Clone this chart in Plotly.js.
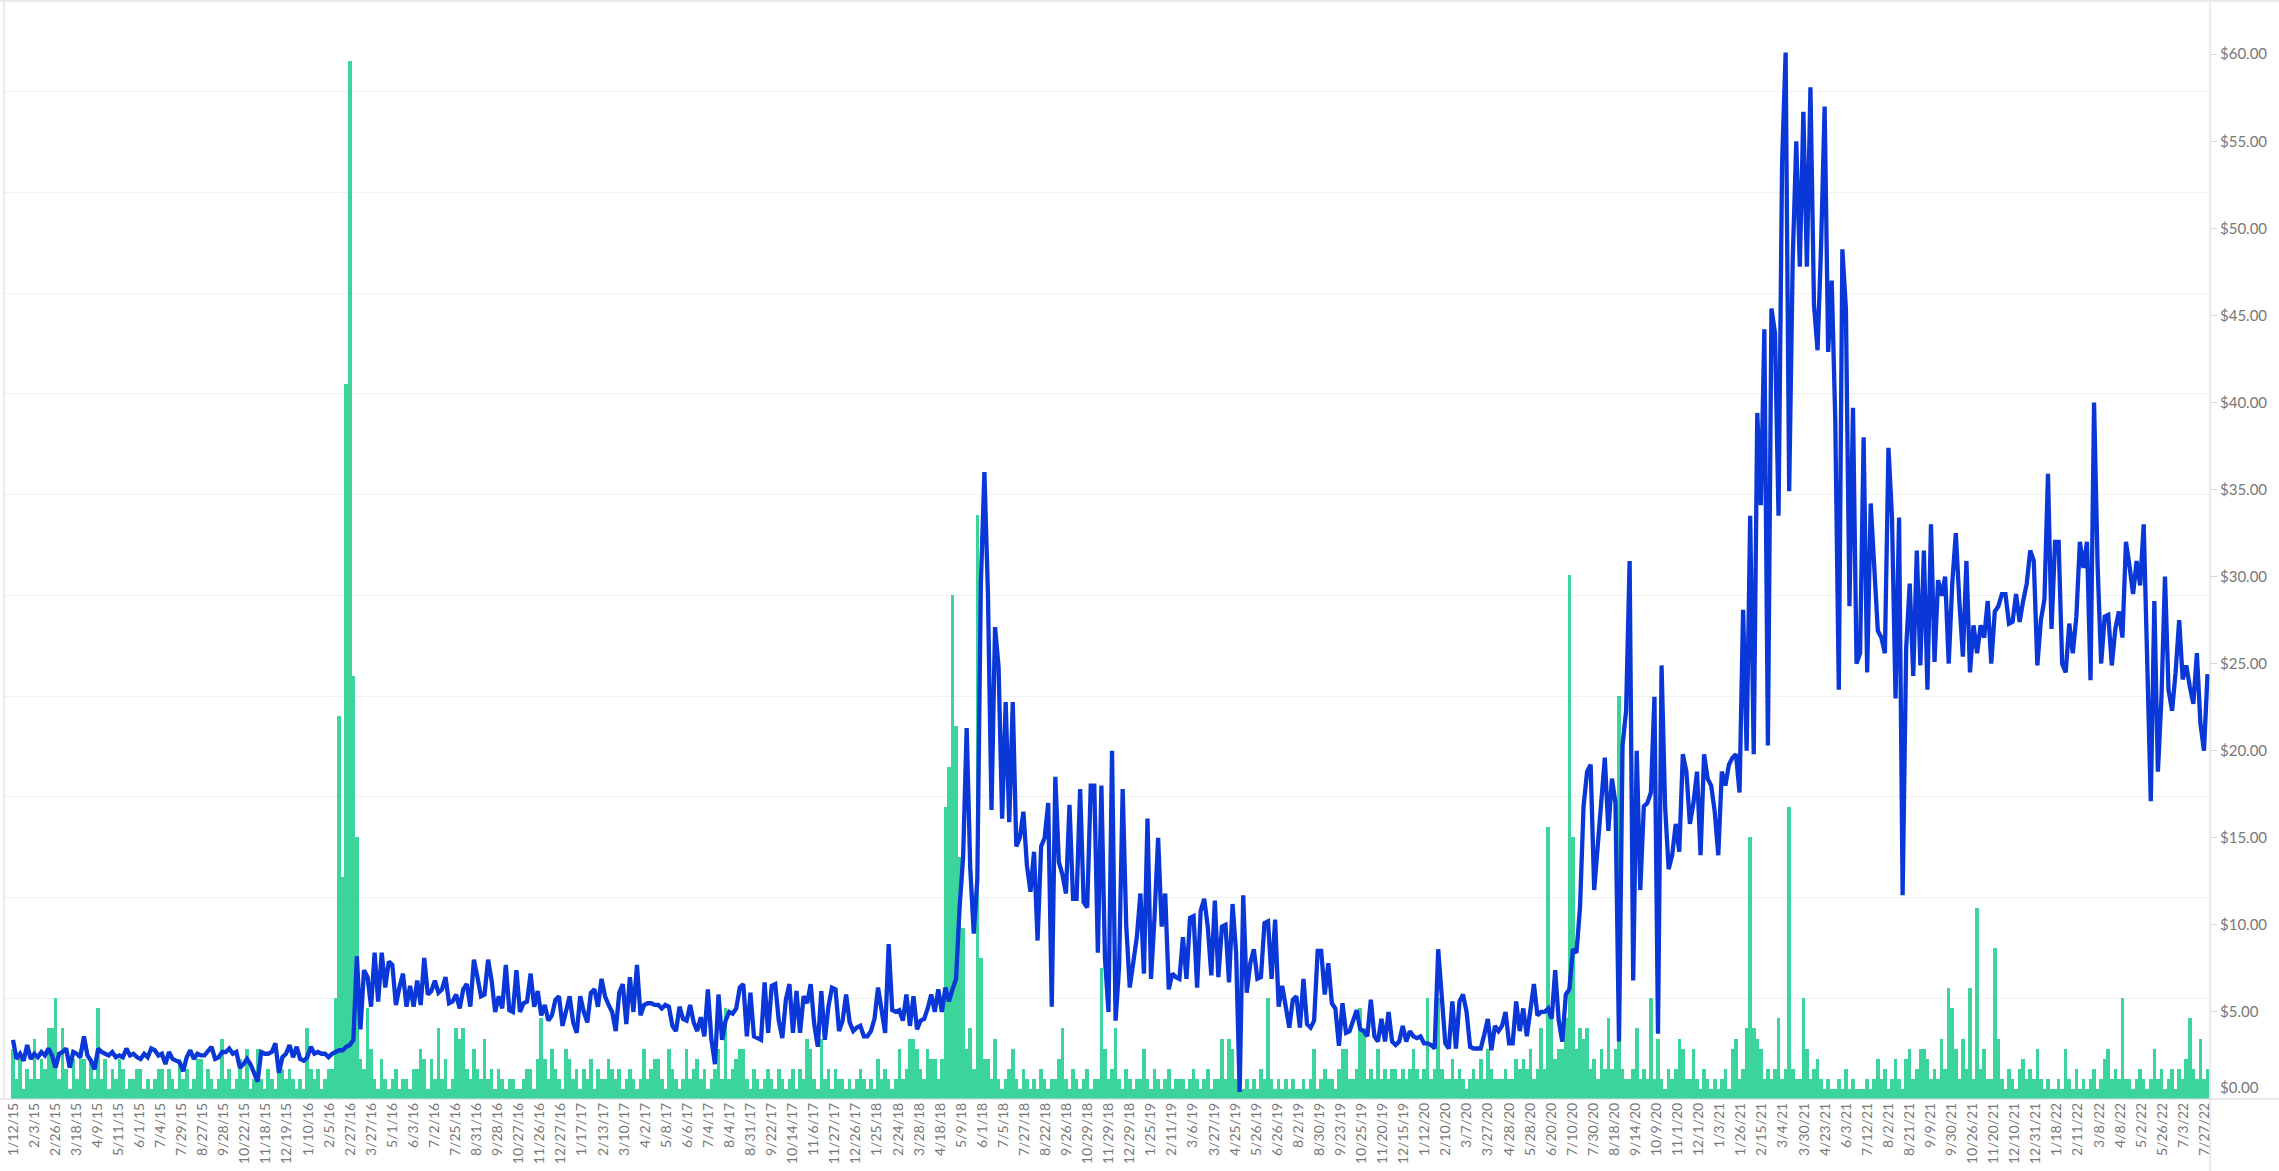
<!DOCTYPE html>
<html>
<head>
<meta charset="utf-8">
<script src="https://cdn.plot.ly/plotly-3.0.1.min.js"></script>
<style>
  html, body { margin: 0; padding: 0; background: #ffffff; }
  #chart { width: 2279px; height: 1171px; }
</style>
</head>
<body>
<div id="chart"></div>
<script>
// ---- Data ----
// Tick labels along the horizontal axis (every labelled category)
const dateLabels = ['1/12/15','2/3/15','2/26/15','3/18/15','4/9/15','5/11/15','6/1/15','7/4/15','7/29/15','8/27/15','9/28/15','10/22/15','11/18/15','12/19/15',
  '1/10/16','2/5/16','2/27/16','3/27/16','5/1/16','6/3/16','7/2/16','7/25/16','8/31/16','9/28/16','10/27/16','11/26/16','12/27/16',
  '1/17/17','2/13/17','3/10/17','4/2/17','5/8/17','6/6/17','7/4/17','8/4/17','8/31/17','9/22/17','10/14/17','11/6/17','11/27/17','12/26/17',
  '1/25/18','2/24/18','3/28/18','4/18/18','5/9/18','6/1/18','7/5/18','7/27/18','8/22/18','9/26/18','10/29/18','11/29/18','12/29/18',
  '1/25/19','2/11/19','3/6/19','3/27/19','4/25/19','5/26/19','6/26/19','8/2/19','8/30/19','9/23/19','10/25/19','11/20/19','12/15/19',
  '1/12/20','2/10/20','3/7/20','3/27/20','4/28/20','5/28/20','6/20/20','7/10/20','7/30/20','8/18/20','9/14/20','10/9/20','11/1/20','12/1/20',
  '1/3/21','1/26/21','2/15/21','3/4/21','3/30/21','4/23/21','6/3/21','7/12/21','8/2/21','8/21/21','9/9/21','9/30/21','10/26/21','11/20/21','12/10/21','12/31/21',
  '1/18/22','2/11/22','3/8/22','4/8/22','5/2/22','5/26/22','7/3/22','7/27/22'];

// Price (blue line, right axis, dollars)
const priceValues = [
  3.4,2.3,2.6,2.2,3.1,2.3, 2.6,2.4,2.7,2.5,2.9,2.5, 1.8,2.6,2.7,2.9,1.8,2.7, 2.6,2.4,3.6,2.5,2.2,1.7,
  2.9,2.7,2.6,2.5,2.7,2.4, 2.5,2.4,2.9,2.5,2.6,2.4, 2.3,2.6,2.4,2.9,2.8,2.5, 2.6,2.0,2.7,2.3,2.2,2.1,
  1.6,2.4,2.8,2.3,2.6,2.5, 2.5,2.8,3.0,2.3,2.4,2.7, 2.7,2.9,2.6,2.7,1.8,2.0, 2.3,2.0,1.5,1.0,2.7,2.6,
  2.6,2.7,3.2,1.5,2.4,2.6, 3.1,2.4,3.0,2.3,2.2,2.4, 3.0,2.6,2.7,2.6,2.6,2.4, 2.6,2.7,2.8,2.8,3.0,3.1,
  3.4,8.2,4.0,7.4,7.0,5.3, 8.4,5.6,8.4,6.4,7.9,7.7, 5.4,6.4,7.2,5.3,6.5,5.3, 6.8,5.4,8.1,6.0,6.2,6.8,
  6.1,6.3,7.0,5.5,5.6,6.0, 5.2,6.3,6.6,5.3,8.0,7.0, 5.9,6.0,8.0,6.8,5.0,5.9, 5.2,7.7,5.1,5.0,7.4,5.0,
  5.5,5.6,7.2,5.3,6.2,4.8, 5.4,4.5,4.8,5.7,5.9,4.2, 5.0,5.9,4.4,3.8,5.9,5.0, 4.4,6.1,6.3,5.3,6.9,5.9,
  5.4,5.0,3.9,6.1,6.6,4.3, 7.0,5.0,7.7,4.8,5.4,5.5, 5.5,5.4,5.4,5.2,5.4,5.3, 4.2,3.9,5.3,4.6,4.5,5.4,
  4.4,3.9,4.7,3.6,6.3,3.4, 2.0,6.0,3.4,4.5,5.0,4.9, 5.2,6.4,6.6,3.6,6.1,3.6, 3.5,3.4,6.7,3.8,6.5,6.6,
  4.5,3.5,5.7,6.6,3.8,6.2, 3.8,5.9,5.5,6.6,4.3,3.0, 6.2,3.4,5.3,6.4,6.3,3.9, 4.5,6.0,4.4,3.9,4.1,4.2,
  3.6,3.6,3.9,4.6,6.4,5.0, 3.8,8.9,5.1,5.0,5.1,4.5, 6.0,4.2,5.9,4.0,4.5,4.6, 5.2,6.0,5.0,6.3,5.0,6.4,
  5.6,6.3,6.9,11.0,13.9,21.3, 13.3,9.5,12.6,29.6,36.0,29.0, 16.6,27.1,24.8,16.1,22.8,15.9, 22.8,14.5,15.0,16.5,13.4,11.9,
  14.2,9.1,14.5,15.0,17.0,5.3, 18.5,13.6,12.9,11.8,16.9,11.5, 11.5,17.8,11.3,11.0,18.0,18.0, 8.4,18.0,8.1,5.0,20.0,4.5,
  7.6,17.8,10.0,6.4,8.1,9.3, 11.8,7.2,16.1,6.9,10.5,15.0, 9.9,11.8,6.3,7.2,7.0,6.9, 9.3,6.9,10.4,10.5,6.4,10.8,
  11.5,9.9,7.1,11.4,7.0,9.9, 10.0,6.7,11.2,8.4,0.4,11.7, 6.1,7.8,8.6,6.9,7.0,10.1, 10.2,6.9,10.3,5.3,6.5,5.4,
  4.1,5.7,5.9,4.1,6.9,4.3, 4.1,4.5,8.5,8.5,6.0,7.8, 5.5,5.2,3.05,5.5,3.8,3.9, 4.6,5.1,4.0,3.9,3.6,5.7,
  3.6,3.3,4.6,3.3,5.0,3.3, 3.1,3.3,4.2,3.3,3.9,3.6, 3.5,3.6,3.2,3.2,3.1,2.9, 8.6,6.0,3.2,2.9,5.6,2.9,
  5.6,6.0,5.0,3.0,2.9,2.9, 2.9,3.7,4.6,2.8,4.2,3.9, 4.2,5.0,3.2,3.2,5.6,3.9, 5.2,3.6,5.2,6.6,4.8,5.0,
  5.0,5.2,4.6,7.4,4.5,3.3, 6.0,6.3,8.6,8.4,11.0,16.8, 18.8,19.2,12.0,14.8,16.8,19.6, 15.4,18.4,17.0,3.3,20.3,22.3,
  30.9,6.8,20.0,12.0,16.8,17.0, 17.6,23.1,3.75,24.9,16.8,13.2, 14.0,15.8,14.2,19.8,18.8,15.8, 17.0,18.8,14.0,19.8,18.4,18.0,
  16.5,14.0,18.8,18.0,19.2,19.6, 19.8,17.6,28.1,20.0,33.5,19.8, 39.4,34.1,44.2,20.3,45.4,44.0, 33.5,53.8,60.1,34.9,48.2,55.0,
  47.8,56.7,47.8,58.1,45.6,43.0, 49.0,57.0,42.9,47.0,39.0,23.5, 48.8,45.4,28.3,39.7,25.0,25.6, 38.0,24.5,34.2,31.0,26.9,26.5,
  25.6,37.4,33.4,23.0,33.4,11.7, 25.9,29.6,24.3,31.5,24.9,31.5, 23.5,33.0,25.1,29.8,28.9,30.0, 25.0,29.6,32.5,28.6,25.4,30.9,
  24.5,27.2,25.6,27.2,26.5,28.6, 25.0,28.0,28.3,29.0,29.0,27.3, 27.4,29.0,27.4,28.6,29.6,31.5, 30.9,24.9,27.5,28.7,35.9,27.0,
  32.0,32.0,25.0,24.5,27.3,25.6, 27.7,32.0,30.5,32.0,24.05,40.0, 30.6,25.0,27.7,27.8,24.9,27.0, 28.0,26.5,32.0,30.6,29.0,30.9,
  29.5,33.0,25.0,17.1,28.6,18.8, 23.0,30.0,23.5,22.3,24.5,27.5, 24.1,24.9,23.7,22.7,25.6,21.56, 20.0,24.4
];

// Volume (green bars, hidden left axis)
const volumeValues = [
  5,2,4,1,3,2, 6,2,4,3,7,7, 10,2,7,3,1,4, 2,5,4,1,4,2, 9,2,4,1,3,2, 4,3,1,2,2,3, 3,1,2,1,2,3, 3,1,3,2,1,4,
  2,3,1,2,4,4, 1,3,2,1,2,6, 2,3,1,2,4,2, 5,1,2,5,2,1, 3,2,1,3,3,2, 3,2,1,2,1,7, 3,2,3,1,2,3, 3,10,38,22,71,103,
  42,26,4,3,9,5, 2,1,4,2,1,2, 3,1,2,2,1,3, 3,5,4,1,4,2, 7,2,4,1,2,7, 6,7,3,2,5,3, 2,6,2,3,1,3, 2,1,2,2,1,1,
  2,3,3,1,4,8, 4,2,5,3,2,1, 5,4,2,3,1,3, 2,4,1,3,2,2, 4,3,2,3,1,2, 3,2,1,2,5,2, 3,4,4,2,1,5, 3,2,1,2,5,2,
  3,4,2,3,1,2, 3,5,2,9,2,3, 4,5,5,2,1,3, 2,1,2,3,2,1, 3,2,1,2,3,1, 3,2,6,5,2,1, 6,2,3,1,3,2, 2,1,2,1,2,3,
  2,1,2,1,4,2, 3,2,1,2,5,2, 3,6,6,5,3,2, 5,4,4,2,4,29, 33,50,37,24,17,5, 7,3,58,14,4,4, 2,6,2,1,2,3, 5,2,1,3,2,1,
  2,1,3,2,1,2, 2,4,7,2,1,3, 2,1,2,3,1,2, 2,13,5,2,3,7, 2,1,3,2,1,2, 2,5,2,1,3,2, 1,2,3,1,2,2, 2,1,2,3,2,1,
  2,3,1,2,2,6, 2,6,5,2,3,1, 2,1,2,1,3,2, 10,2,1,2,1,2, 1,2,1,1,2,1, 2,5,1,2,3,2, 2,1,3,5,5,2, 2,3,9,7,2,3,
  2,5,2,3,2,3, 3,2,3,2,3,5, 3,2,3,10,2,3, 10,3,2,2,4,2, 3,2,1,2,3,2, 4,2,5,3,2,2, 2,3,2,2,4,3, 4,3,5,2,3,7,
  3,27,8,4,5,5, 8,52,26,5,7,6, 7,3,4,2,5,3, 8,3,5,40,3,2, 2,3,7,2,3,2, 10,2,6,2,1,3, 2,3,6,5,2,2, 5,2,1,3,2,1,
  2,1,2,3,1,5, 6,2,3,7,26,7, 6,5,2,3,2,3, 8,2,3,29,3,2, 2,10,5,2,3,4, 2,1,2,1,1,2, 1,3,1,2,1,1, 1,2,1,2,4,2,
  3,1,2,4,2,1, 4,5,2,3,5,5, 4,2,3,2,6,3, 11,9,5,2,6,3, 11,2,19,3,5,2, 2,15,6,2,1,3, 2,1,3,4,2,3, 2,5,2,1,2,1,
  1,2,1,5,2,1, 3,1,2,1,2,3, 1,2,4,5,2,3, 2,10,2,2,1,2, 3,2,1,2,5,2, 3,1,2,3,1,3, 2,4,8,3,2,6, 2,3
];

// Right axis tick values (dollars)
const priceTicks = [5,10,15,20,25,30,35,40,45,50,55,60];
const priceZeroTick = 0;

// ---- Build the chart ----
const idx = priceValues.map((_, i) => i);
const lastLabelPos = 618.1;                 // category position of the last labelled date
const labelStep = lastLabelPos / (dateLabels.length - 1);
const tickPositions = dateLabels.map((_, k) => k * labelStep);
const fmt = v => '$' + v.toFixed(2);

const FONT = 'Lato, "Open Sans", "DejaVu Sans", sans-serif';
const LABEL = '#777777';
const FRAME = '#d6d6d6';

const volumeTrace = {
  type: 'bar', x: idx, y: volumeValues, xaxis: 'x', yaxis: 'y',
  marker: { color: '#3bd49b', line: { width: 0 } },
  width: 1, hoverinfo: 'skip', showlegend: false
};
const priceTrace = {
  type: 'scatter', mode: 'lines', x: idx, y: priceValues, xaxis: 'x', yaxis: 'y2',
  line: { color: '#0a37d8', width: 4.3, shape: 'linear' },
  hoverinfo: 'skip', showlegend: false
};

const L = 4, R = 69, T = 2, B = 72, W = 2279, H = 1171;
const pw = W - L - R, ph = H - T - B;
const px2x = p => (p - L) / pw;
const py2y = p => (H - B - p) / ph;

const layout = {
  width: W, height: H,
  margin: { l: L, r: R, t: T, b: B, pad: 0 },
  paper_bgcolor: '#ffffff', plot_bgcolor: '#ffffff',
  bargap: 0, showlegend: false,
  font: { family: FONT, color: LABEL },
  xaxis: {
    range: [-2.54, 619.7], tickmode: 'array', tickvals: tickPositions, ticktext: dateLabels,
    tickangle: -90, tickfont: { size: 14, color: LABEL, family: FONT },
    showgrid: false, zeroline: false, showline: false, ticks: '', automargin: false, fixedrange: true
  },
  yaxis: {
    range: [0, 108.9], dtick: 10, tick0: 0, showgrid: true, gridcolor: '#f1f1f1', gridwidth: 1,
    showticklabels: false, zeroline: false, showline: false, ticks: '', fixedrange: true
  },
  yaxis2: {
    overlaying: 'y', side: 'right', range: [0, 63],
    tickmode: 'array', tickvals: priceTicks, ticktext: priceTicks.map(fmt),
    ticks: 'outside', ticklen: 6, tickwidth: 1, tickcolor: FRAME,
    tickfont: { size: 15, color: LABEL, family: FONT },
    showgrid: false, zeroline: false, showline: false, automargin: false, fixedrange: true
  },
  annotations: [{
    xref: 'paper', yref: 'y2', x: 1, y: priceZeroTick, xanchor: 'left', yanchor: 'middle',
    xshift: 8, yshift: 12, text: fmt(priceZeroTick), showarrow: false,
    font: { size: 15, color: LABEL, family: FONT }
  }],
  shapes: [
    { type: 'line', xref: 'paper', yref: 'paper', x0: px2x(0), x1: px2x(W), y0: py2y(1), y1: py2y(1), line: { color: FRAME, width: 1 } },
    { type: 'line', xref: 'paper', yref: 'paper', x0: px2x(4), x1: px2x(4), y0: 0, y1: py2y(1), line: { color: FRAME, width: 1 } },
    { type: 'line', xref: 'paper', yref: 'paper', x0: 1, x1: 1, y0: py2y(H), y1: py2y(1), line: { color: FRAME, width: 1 } },
    { type: 'line', xref: 'paper', yref: 'paper', x0: px2x(0), x1: px2x(W), y0: 0, y1: 0, line: { color: FRAME, width: 1 } }
  ]
};

Plotly.newPlot('chart', [volumeTrace, priceTrace], layout, { displayModeBar: false, staticPlot: true });
</script>
</body>
</html>
